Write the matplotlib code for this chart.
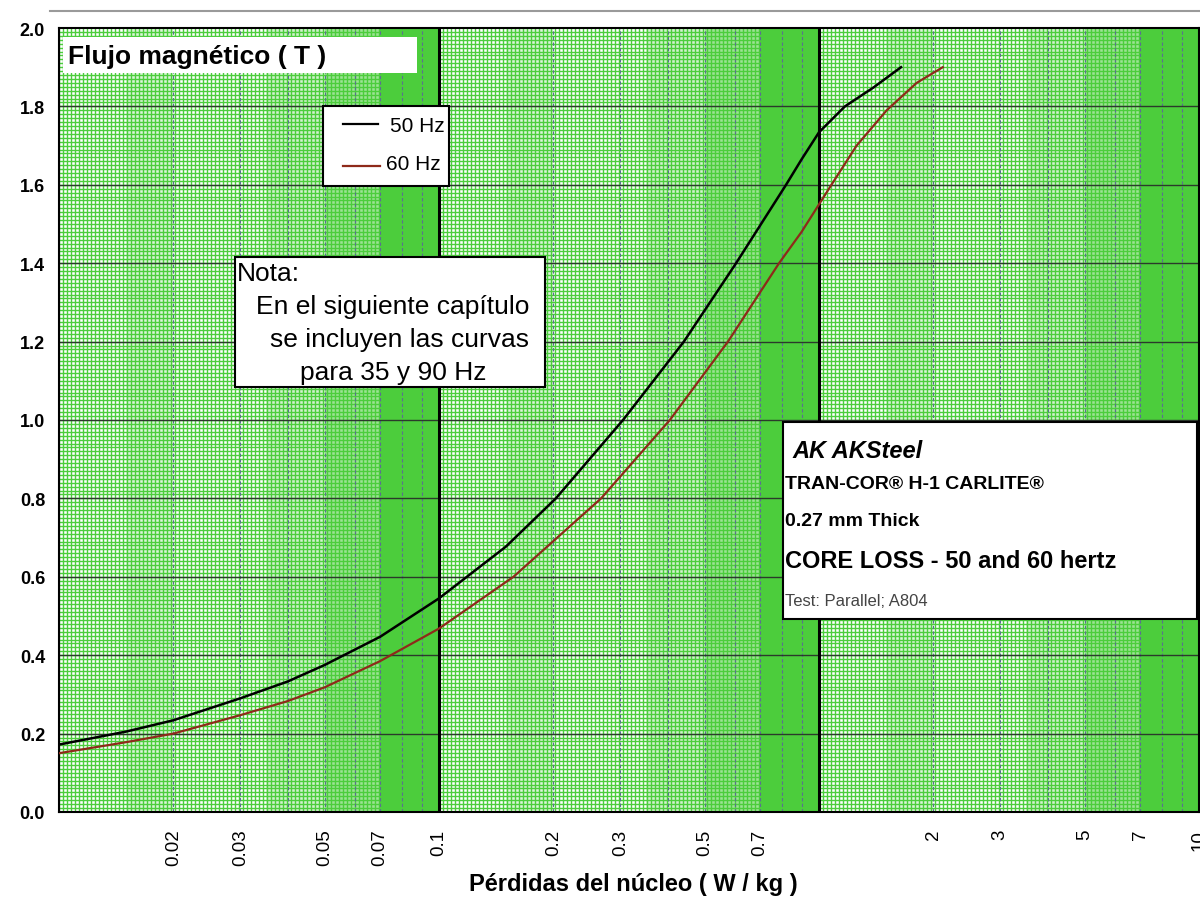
import numpy as np
import matplotlib
matplotlib.use("Agg")
import matplotlib.pyplot as plt
from matplotlib.patches import Rectangle
from matplotlib.lines import Line2D
from matplotlib.ticker import NullLocator

plt.rcParams['font.family'] = ['Liberation Sans', 'DejaVu Sans']

# Curves (W/kg, T)
loss_50hz = [0.01, 0.015, 0.02, 0.03, 0.04, 0.05, 0.07, 0.1, 0.15, 0.203,
             0.305, 0.441, 0.605, 0.819, 0.9, 1.0, 1.17, 1.39, 1.644]
flux_50hz = [0.172, 0.205, 0.234, 0.29, 0.333, 0.375, 0.447, 0.545, 0.677, 0.8,
             1.0, 1.2, 1.4, 1.6, 1.665, 1.734, 1.8, 1.848, 1.90]
loss_60hz = [0.01, 0.015, 0.02, 0.03, 0.04, 0.05, 0.07, 0.1, 0.157, 0.267, 0.405,
             0.576, 0.785, 0.9, 1.0, 1.07, 1.256, 1.507, 1.807, 2.117]
flux_60hz = [0.15, 0.178, 0.2, 0.247, 0.283, 0.318, 0.385, 0.468, 0.6, 0.8, 1.0,
             1.2, 1.4, 1.48, 1.55, 1.595, 1.70, 1.79, 1.86, 1.90]

x_ticks = [0.02, 0.03, 0.05, 0.07, 0.1, 0.2, 0.3, 0.5, 0.7, 2, 3, 5, 7, 10]
x_tick_labels = ["0.02", "0.03", "0.05", "0.07", "0.1", "0.2", "0.3", "0.5", "0.7",
                 "2", "3", "5", "7", "10"]
y_ticks = [0.0, 0.2, 0.4, 0.6, 0.8, 1.0, 1.2, 1.4, 1.6, 1.8, 2.0]

W, H = 1200, 903
GREEN = '#4ccd3c'

fig = plt.figure(figsize=(W / 100, H / 100), dpi=100)
ax = fig.add_axes([59 / W, 90 / H, 1140 / W, 784 / H])
ax.set_xscale('log')
ax.set_xlim(0.01, 10)
ax.set_ylim(0, 2.0)
ax.set_facecolor('white')

# graph-paper background: even mesh plus darker bands towards the end of each decade
mesh_x = np.logspace(-2, 1, 3 * 95 + 1)
ax.vlines(mesh_x, 0, 2, colors=GREEN, lw=1.0, zorder=1)
ax.hlines(np.arange(0.01, 2.0, 0.01), 0.01, 10, colors=GREEN, lw=1.0, zorder=1)
for d in [0.01, 0.1, 1.0]:
    ax.axvspan(1.5 * d, 2 * d, color=GREEN, alpha=0.2, lw=0, zorder=0)
    ax.axvspan(3.5 * d, 5 * d, color=GREEN, alpha=0.25, lw=0, zorder=0)
    ax.axvspan(5 * d, 7 * d, color=GREEN, alpha=0.55, lw=0, zorder=0)
    ax.axvspan(7 * d, 10 * d, color=GREEN, lw=0, zorder=0)
    ax.vlines(np.arange(2, 10) * d, 0, 2, colors='#5a7090', lw=0.8,
              linestyles=(0, (3, 2)), zorder=2)
ax.hlines(np.arange(0.2, 2.0, 0.2), 0.01, 10, colors='#2b3a2b', lw=1.0, zorder=2)
ax.vlines([0.1, 1.0], 0, 2, colors='black', lw=2.2, zorder=2)

ax.plot(loss_50hz, flux_50hz, color='black', lw=1.8, zorder=4)
ax.plot(loss_60hz, flux_60hz, color='#8e2a1a', lw=1.6, zorder=4)

for s in ax.spines.values():
    s.set_linewidth(1.5)
    s.set_color('black')

ax.set_yticks(y_ticks)
ax.set_yticklabels([f"{v:.1f}" for v in y_ticks], fontsize=13, fontweight='bold')
ax.set_xticks(x_ticks)
ax.set_xticklabels(x_tick_labels, rotation=90, fontsize=13.5)
ax.xaxis.set_minor_locator(NullLocator())
ax.tick_params(axis='both', length=0)
ax.tick_params(axis='y', pad=10)
ax.tick_params(axis='x', pad=12)


def ftxt(x, y, s, **kw):
    fig.text(x / W, 1 - y / H, s, zorder=6, **kw)


def fbox(x0, y0, x1, y1, edge=True):
    fig.add_artist(Rectangle((x0 / W, 1 - y1 / H), (x1 - x0) / W, (y1 - y0) / H,
                             transform=fig.transFigure, facecolor='white',
                             edgecolor='black' if edge else 'none', lw=1.5, zorder=5))


# top rule
fig.add_artist(Line2D([50 / W, 1], [1 - 12 / H] * 2, color='#9a9a9a', lw=1.5))

ftxt(633, 885, "Pérdidas del núcleo ( W / kg )", fontsize=17, fontweight='bold',
     ha='center', va='center')

# y title box
fbox(63, 38, 417, 74, edge=False)
ftxt(68, 57, "Flujo magnético ( T )", fontsize=19, fontweight='bold', va='center')

# legend
fbox(323, 107, 449, 187)
fig.add_artist(Line2D([343 / W, 378 / W], [1 - 125 / H] * 2, color='black', lw=1.6, zorder=6))
fig.add_artist(Line2D([343 / W, 380 / W], [1 - 167 / H] * 2, color='#8e2a1a', lw=1.6, zorder=6))
ftxt(390, 126, "50 Hz", fontsize=15, va='center')
ftxt(386, 165, "60 Hz", fontsize=15, va='center')

# note
fbox(235, 258, 545, 388)
ftxt(237, 274, "Nota:", fontsize=19, va='center')
ftxt(393, 307, "En el siguiente capítulo", fontsize=19, va='center', ha='center')
ftxt(400, 340, "se incluyen las curvas", fontsize=19, va='center', ha='center')
ftxt(393, 373, "para 35 y 90 Hz", fontsize=19, va='center', ha='center')

# AK Steel label
fbox(783, 423, 1197, 620)
ftxt(792, 452, "AK AKSteel", fontsize=17, fontweight='heavy', fontstyle='italic', va='center')
ftxt(785, 485, "TRAN-COR® H-1 CARLITE®", fontsize=14, fontweight='bold', va='center')
ftxt(785, 522, "0.27 mm Thick", fontsize=14, fontweight='bold', va='center')
ftxt(785, 562, "CORE LOSS - 50 and 60 hertz", fontsize=17, fontweight='bold', va='center')
ftxt(785, 601, "Test: Parallel; A804", fontsize=12, color='#444444', va='center')

fig.savefig("out.png", dpi=100)
